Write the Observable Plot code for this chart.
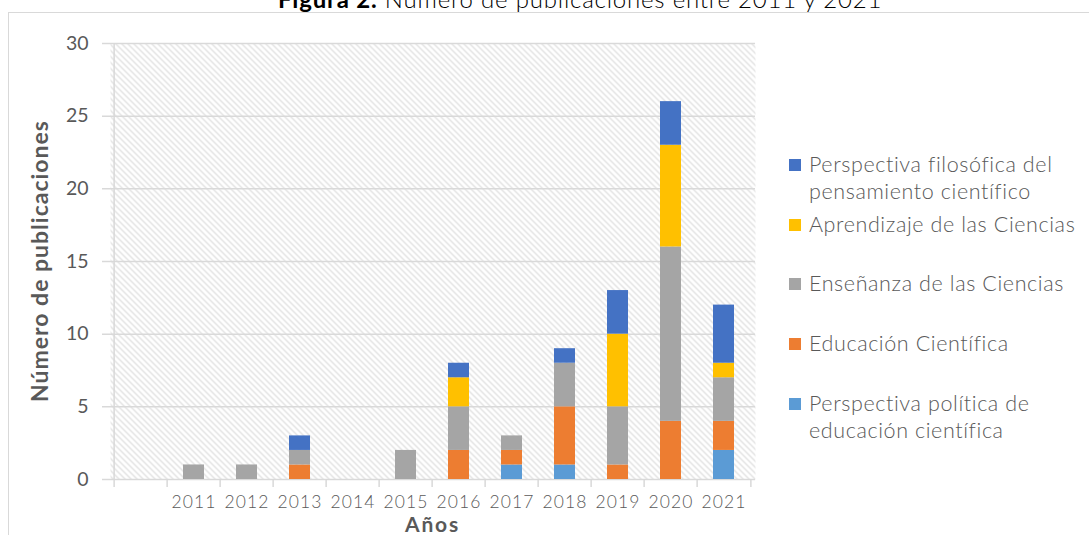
<!DOCTYPE html>
<html><head><meta charset="utf-8">
<script src="https://cdn.jsdelivr.net/npm/d3@7"></script>
<script src="https://cdn.jsdelivr.net/npm/@observablehq/plot@0.6"></script>
<style>
html,body{margin:0;padding:0;background:#fff;overflow:hidden;}
#wrap{position:relative;width:1089px;height:535px;overflow:hidden;background:#fff;}
#frame{position:absolute;left:8px;top:12px;width:1300px;height:900px;border:1px solid #d9d9d9;box-sizing:border-box;}
#plot{position:absolute;left:0;top:0;}
#plot svg g[aria-label^="x-axis"] text{font-family:Lato,sans-serif;font-weight:300;font-size:17.5px;fill:#595959;letter-spacing:1.1px;}
#plot svg g[aria-label^="y-axis"] text{font-family:Lato,sans-serif;font-weight:400;font-size:19.5px;fill:#595959;}
#overlay{position:absolute;left:0;top:0;pointer-events:none;}
#legend{position:absolute;left:0;top:0;}
.item{position:absolute;left:789px;white-space:nowrap;font-family:Lato,sans-serif;font-weight:300;font-size:21.5px;letter-spacing:0.6px;line-height:27px;color:#595959;}
.sw{position:absolute;left:0;top:8px;width:12px;height:12px;}
.lbl{position:absolute;left:20px;top:0;}
</style></head><body>
<div id="wrap"><div id="frame"></div><div id="plot"></div><svg id="overlay" width="1089" height="535"></svg><div id="legend"></div></div>
<script>
// ---- data ----
const years = ["", "2011", "2012", "2013", "2014", "2015", "2016", "2017", "2018", "2019", "2020", "2021"];
const seriesNames = [
  "Perspectiva política de educación científica",
  "Educación Científica",
  "Enseñanza de las Ciencias",
  "Aprendizaje de las Ciencias",
  "Perspectiva filosófica del pensamiento científico"
];
const seriesColors = ["#5B9BD5", "#ED7D31", "#A5A5A5", "#FFC000", "#4472C4"];
// values for 2011..2021
const politica    = [0, 0, 0, 0, 0, 0, 1, 1, 0, 0, 2];
const educacion   = [0, 0, 1, 0, 0, 2, 1, 4, 1, 4, 2];
const ensenanza   = [1, 1, 1, 0, 2, 3, 1, 3, 4, 12, 3];
const aprendizaje = [0, 0, 0, 0, 0, 2, 0, 0, 5, 7, 1];
const filosofica  = [0, 0, 1, 0, 0, 1, 0, 1, 3, 3, 4];
const yTicks = [0, 5, 10, 15, 20, 25, 30];
const legendLabels = [
  ["Perspectiva filosófica del", "pensamiento científico"],
  ["Aprendizaje de las Ciencias"],
  ["Enseñanza de las Ciencias"],
  ["Educación Científica"],
  ["Perspectiva política de", "educación científica"]
];
const titleBold = "Figura 2.";
const titleRest = " Número de publicaciones entre 2011 y 2021";
const xTitle = "Años";
const yTitle = "Número de publicaciones";

// ---- table ----
const seriesValues = [politica, educacion, ensenanza, aprendizaje, filosofica];
const table = [];
years.slice(1).forEach((yr, i) => {
  seriesNames.forEach((s, k) => table.push({year: yr, series: s, value: seriesValues[k][i]}));
});

const W = 780, H = 535, mL = 110, mR = 25, mT = 43, mB = 56;
const step = (W - mL - mR) / years.length;
const grid = "#d9d9d9";

const chart = Plot.plot({
  width: W, height: H,
  marginLeft: mL, marginRight: mR, marginTop: mT, marginBottom: mB,
  style: {background: "transparent", overflow: "visible"},
  x: {domain: years, paddingInner: 0.6, paddingOuter: 0.3, tickSize: 0, tickPadding: 16, label: null},
  y: {domain: [0, 30], ticks: yTicks, tickSize: 0, tickPadding: 22, label: null},
  color: {domain: seriesNames, range: seriesColors},
  marks: [
    Plot.frame({fill: "url(#hatch)", stroke: "none"}),
    Plot.ruleY(yTicks, {y: d => d, stroke: grid, strokeWidth: 1.5, insetLeft: -8}),
    Plot.ruleX(years, {x: d => d, y1: d => (d === "" ? 30 : 0), y2: 0, dx: -step / 2, insetBottom: -8, stroke: grid, strokeWidth: 1.5}),
    Plot.ruleX(years.slice(-1), {x: d => d, y1: 0, y2: 0, dx: step / 2, insetBottom: -8, stroke: grid, strokeWidth: 1.5}),
    Plot.barY(table, {x: "year", y: "value", fill: "series"})
  ]
});

// hatch pattern
const defs = d3.select(chart).insert("defs", ":first-child");
const pat = defs.append("pattern").attr("id", "hatch").attr("patternUnits", "userSpaceOnUse")
  .attr("width", 6).attr("height", 6);
pat.append("rect").attr("width", 6).attr("height", 6).attr("fill", "#fff");
pat.append("path").attr("d", "M-1,-1L7,7M-1,5L1,7M5,-1L7,1").attr("stroke", "#d9d9d9").attr("stroke-width", 1.1);

document.getElementById("plot").appendChild(chart);

// titles
const ov = d3.select("#overlay");
const t = ov.append("text").attr("x", 278).attr("y", 8)
  .style("font-family", "Lato, sans-serif").style("font-size", "24px").style("letter-spacing", "0.8px").attr("fill", "#000");
t.append("tspan").attr("font-weight", 700).text(titleBold);
t.append("tspan").attr("font-weight", 300).text(titleRest);

ov.append("text").attr("x", (mL + W - mR) / 2).attr("y", 532).attr("text-anchor", "middle")
  .style("font-family", "Lato, sans-serif").style("font-size", "21px").style("letter-spacing", "1.8px").attr("font-weight", 700)
  .attr("fill", "#595959").text(xTitle);

ov.append("text").attr("transform", "translate(48,261) rotate(-90)").attr("text-anchor", "middle")
  .style("font-family", "Lato, sans-serif").style("font-size", "23px").style("letter-spacing", "1px").attr("font-weight", 700)
  .attr("fill", "#595959").text(yTitle);

// legend
const legend = d3.select("#legend");
const colorsTopDown = seriesColors.slice().reverse();
legendLabels.forEach((lines, i) => {
  const it = legend.append("div").attr("class", "item").style("top", (151 + i * 59.7) + "px");
  it.append("div").attr("class", "sw").style("background", colorsTopDown[i]);
  const lb = it.append("div").attr("class", "lbl");
  lines.forEach(l => lb.append("div").text(l));
});
</script></body></html>
